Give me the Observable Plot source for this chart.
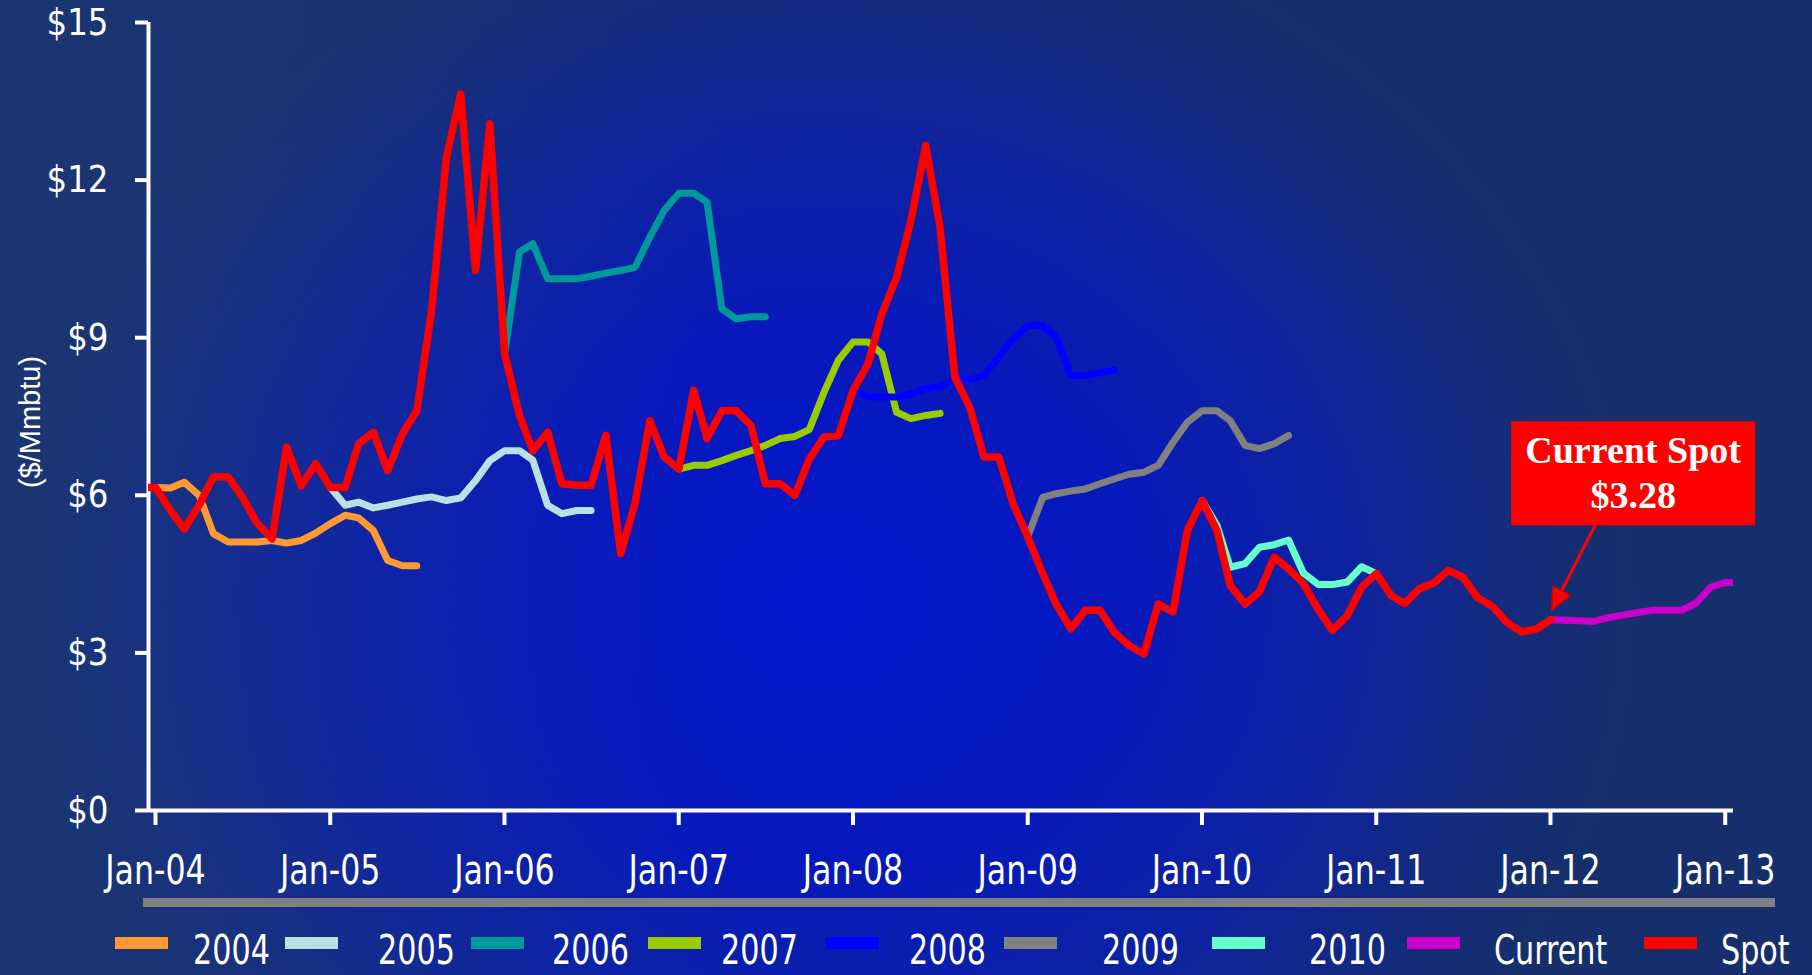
<!DOCTYPE html>
<html>
<head>
<meta charset="utf-8">
<script src="https://cdn.jsdelivr.net/npm/d3@7"></script>
<script src="https://cdn.jsdelivr.net/npm/@observablehq/plot@0.6"></script>
<style>
  html, body { margin: 0; padding: 0; }
  body { width: 1812px; height: 975px; overflow: hidden; }
  #wrap {
    position: relative; width: 1812px; height: 975px; overflow: hidden;
    background:
      linear-gradient(90deg, rgba(40,70,130,0.30) 0%, rgba(40,70,130,0.12) 25%, rgba(40,70,130,0) 40%),
      radial-gradient(ellipse 820px 720px at 820px 600px, #0316cc 0%, #0719bb 38%, #0d22a0 64%, #142c7a 86%, #162f6c 100%);
    background-color: #162f6c;
  }
  #chart svg, #legend svg { display: block; }
</style>
</head>
<body>
<div id="wrap">
  <div id="chart"></div>
  <div id="legend"></div>
</div>
<script>
// ---------- data ($/Mmbtu, monthly) ----------
const seriesNames  = ["2004", "2005", "2006", "2007", "2008", "2009", "2010", "Current", "Spot"];
const seriesColors = ["#ff9933", "#b9e0e3", "#009999", "#99cc00", "#0000ff", "#808080", "#66ffcc", "#cc00cc", "#ff0000"];
// first month of each series: [year, month index]
const seriesStart  = [[2004,0],[2005,0],[2006,0],[2007,0],[2008,0],[2009,0],[2010,0],[2012,0],[2003,11]];

const strip2004 = [6.15,6.14,6.25,6.00,5.27,5.11,5.11,5.11,5.14,5.09,5.14,5.28,5.46,5.62,5.57,5.33,4.76,4.66,4.66];
const strip2005 = [6.15,5.81,5.87,5.76,5.81,5.87,5.93,5.97,5.90,5.95,6.28,6.66,6.85,6.85,6.67,5.81,5.65,5.71,5.71];
const strip2006 = [8.69,10.63,10.79,10.12,10.12,10.12,10.17,10.23,10.28,10.34,10.91,11.42,11.75,11.75,11.58,9.55,9.36,9.40,9.40];
const strip2007 = [6.50,6.57,6.57,6.66,6.76,6.85,6.95,7.08,7.12,7.25,7.96,8.57,8.92,8.92,8.69,7.58,7.46,7.52,7.56];
const strip2008 = [8.00,7.87,7.87,7.87,7.93,8.03,8.07,8.20,8.20,8.28,8.63,8.98,9.23,9.23,9.01,8.28,8.28,8.33,8.38];
const strip2009 = [5.22,5.96,6.03,6.08,6.12,6.22,6.31,6.40,6.44,6.57,7.01,7.39,7.61,7.61,7.42,6.95,6.89,6.98,7.14];
const strip2010 = [5.90,5.43,4.63,4.70,5.01,5.06,5.15,4.52,4.30,4.30,4.35,4.64,4.51];
const stripCurrent = [3.63,3.62,3.61,3.60,3.67,3.72,3.77,3.81,3.81,3.81,3.95,4.25,4.34,4.34];
const spotPrices = [6.15,
  6.15,5.71,5.36,5.81,6.35,6.35,5.96,5.46,5.17,6.92,6.18,6.60,
  6.15,6.15,6.98,7.20,6.47,7.17,7.61,9.52,12.44,13.64,10.28,13.07,
  8.69,7.52,6.85,7.20,6.22,6.19,6.19,7.14,4.89,5.84,7.42,6.73,
  6.50,8.00,7.08,7.61,7.61,7.33,6.22,6.22,6.00,6.69,7.11,7.14,
  8.00,8.50,9.45,10.15,11.23,12.66,11.10,8.25,7.68,6.73,6.73,5.84,
  5.20,4.51,3.93,3.46,3.81,3.81,3.39,3.14,2.98,3.93,3.78,5.33,
  5.90,5.33,4.28,3.93,4.16,4.82,4.60,4.32,3.83,3.43,3.71,4.25,
  4.51,4.09,3.94,4.22,4.33,4.57,4.44,4.05,3.89,3.58,3.40,3.45,
  3.63];
const seriesValues = [strip2004, strip2005, strip2006, strip2007, strip2008, strip2009, strip2010, stripCurrent, spotPrices];

const yTicks = [0, 3, 6, 9, 12, 15];
const xTickYears = [2004, 2005, 2006, 2007, 2008, 2009, 2010, 2011, 2012, 2013];
const yLabel = "($/Mmbtu)";
const callout = {year: 2012, month: 0, value: 3.63, lines: ["Current Spot", "$3.28"]};

// ---------- table ----------
const rows = [];
seriesNames.forEach((name, s) => {
  const [y0, m0] = seriesStart[s];
  seriesValues[s].forEach((v, i) => {
    rows.push({series: name, date: new Date(Date.UTC(y0, m0 + i, 16)), value: v});
  });
});

const narrow = "'Liberation Sans Narrow', 'Arial Narrow', 'DejaVu Sans Condensed', sans-serif";
const xTicks = xTickYears.map(y => new Date(Date.UTC(y, 0, 1)));
const fmt = d3.utcFormat("%b-%y");

const plot = Plot.plot({
  width: 1812,
  height: 890,
  marginLeft: 148,
  marginRight: 79,
  marginTop: 22,
  marginBottom: 80,
  style: {background: "transparent", color: "white", fontFamily: narrow, overflow: "visible"},
  x: {type: "utc", domain: [new Date(Date.UTC(2004, 0, 1)), new Date(Date.UTC(2013, 1, 2))]},
  y: {domain: [0, 15]},
  color: {domain: seriesNames, range: seriesColors},
  marks: [
    Plot.axisY(yTicks, {tickSize: 13, tickPadding: 27, tickFormat: d => "$" + d, fontSize: 38,
      stroke: "white", strokeWidth: 4, fill: "white", label: null}),
    Plot.axisX(xTicks, {tickSize: 15, tickPadding: 30, tickFormat: fmt, fontSize: 40, dx: 7,
      stroke: "white", strokeWidth: 4, fill: "white", label: null}),
    Plot.ruleY([0], {stroke: "white", strokeWidth: 4}),
    Plot.ruleX([new Date(Date.UTC(2004, 0, 1))], {stroke: "white", strokeWidth: 4}),
    Plot.line(rows, {x: "date", y: "value", z: "series", stroke: "series",
      strokeWidth: d => d.series === "Spot" ? 7.5 : 7, strokeLinejoin: "round", strokeLinecap: "round", clip: true})
  ]
});
document.getElementById("chart").appendChild(plot);

// condense text horizontally (reference uses a tall, narrow face)
function condense(nodes, s) {
  nodes.each(function () {
    const t = this.getAttribute("transform");
    if (t) this.setAttribute("transform", `${t} scale(${s},1)`);
    else {
      const x = +this.getAttribute("x") || 0;
      this.setAttribute("transform", `translate(${x},0) scale(${s},1) translate(${-x},0)`);
    }
  });
}
const svg = d3.select(plot);
condense(svg.selectAll('g[aria-label="x-axis tick label"] text'), 0.88);
condense(svg.selectAll('g[aria-label="y-axis tick label"] text'), 0.95);

// ---------- y label + call-out (anchored through the plot's scales) ----------
svg.append("text")
  .attr("transform", `translate(30, ${(plot.scale("y").apply(15) + plot.scale("y").apply(0)) / 2 + 6}) rotate(-90)`)
  .attr("text-anchor", "middle").attr("dominant-baseline", "central")
  .attr("fill", "white").style("font-family", "'Liberation Sans', Arial, sans-serif").style("font-size", "29px")
  .text(yLabel);

const ax = plot.scale("x").apply(new Date(Date.UTC(callout.year, callout.month, 16)));
const ay = plot.scale("y").apply(callout.value);
const g = svg.append("g");
g.append("rect").attr("x", ax - 39).attr("y", ay - 198).attr("width", 244).attr("height", 104).attr("fill", "#ff0000");
callout.lines.forEach((t, i) => {
  g.append("text").attr("x", ax + 83).attr("y", ay - 156 + i * 45).attr("text-anchor", "middle")
    .attr("fill", "white").style("font-family", "'Liberation Serif', 'DejaVu Serif', serif")
    .style("font-size", "38px").style("font-weight", "bold").text(t);
});
const sx = ax + 45, sy = ay - 94, tx = ax + 1.5, ty = ay - 9;
const L = Math.hypot(tx - sx, ty - sy), ux = (tx - sx) / L, uy = (ty - sy) / L;
const bx = tx - 22 * ux, by = ty - 22 * uy, px = -uy, py = ux;
g.append("line").attr("x1", sx).attr("y1", sy).attr("x2", bx).attr("y2", by).attr("stroke", "#ff0000").attr("stroke-width", 3);
g.append("polygon").attr("points", `${tx},${ty} ${bx + 10 * px},${by + 10 * py} ${bx - 10 * px},${by - 10 * py}`)
  .attr("fill", "#ff0000").attr("stroke", "#cc0000").attr("stroke-width", 1.5);

// ---------- gray bar + legend below the chart ----------
const swatchX = [115, 285, 471, 648, 826, 1004, 1212, 1407, 1644];
const labelX  = [193, 378, 552, 721, 909, 1102, 1309, 1494, 1721];
const lg = d3.select("#legend").append("svg").attr("width", 1812).attr("height", 85);
lg.append("rect").attr("x", 143).attr("y", 8).attr("width", 1632).attr("height", 9).attr("fill", "#808080");
seriesNames.forEach((name, i) => {
  lg.append("rect").attr("x", swatchX[i]).attr("y", 47).attr("width", 53).attr("height", 12).attr("fill", seriesColors[i]);
  lg.append("text").attr("transform", `translate(${labelX[i]},74) scale(0.84,1)`).attr("fill", "white")
    .style("font-family", narrow).style("font-size", "40px").text(name);
});
</script>
</body>
</html>
